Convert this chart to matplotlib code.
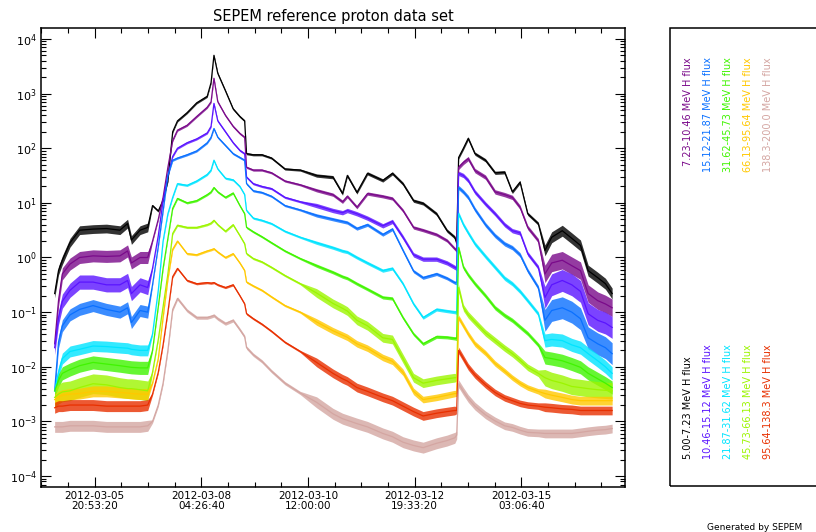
import numpy as np
import matplotlib
matplotlib.use('Agg')
import matplotlib.pyplot as plt
import matplotlib.dates as mdates
from matplotlib.ticker import AutoMinorLocator, LogLocator, NullFormatter
from matplotlib.patches import Rectangle

# Time of each sample, hours after 2012-03-05 00:00 UT
hours = [0, 2, 4, 8, 13, 20, 27, 34, 38, 40,
         44.5, 48.5, 51, 54, 56.5, 59, 61.5, 64, 69, 74,
         79.5, 81.5, 83, 85, 89, 93, 96.5, 99, 100, 103.5,
         108, 113, 120, 128, 136.5, 145, 150, 152.5, 157.5, 163,
         171, 176, 181.5, 187, 192, 199, 204.5, 208.5, 209.5, 210.5,
         213, 215.5, 219, 224.5, 229.5, 234.5, 238.5, 242.5, 246.5, 252,
         255.5, 259, 264.5, 269.5, 274, 278, 283, 287, 290.5]

# log10 of the flux for each energy channel
flux_5_7 = [-0.66, -0.24, -0.05, 0.27, 0.5, 0.52, 0.53, 0.5, 0.62, 0.32,
            0.5, 0.55, 0.95, 0.85, 1.05, 1.4, 2.3, 2.5, 2.65, 2.83,
            2.95, 3.2, 3.7, 3.37, 3.05, 2.72, 2.58, 2.5, 1.9, 1.88,
            1.88, 1.82, 1.62, 1.6, 1.5, 1.47, 1.17, 1.5, 1.19, 1.54,
            1.41, 1.54, 1.35, 1.04, 0.99, 0.8, 0.49, 0.37, 0.26, 1.83,
            2.0, 2.18, 1.9, 1.78, 1.55, 1.56, 1.2, 1.38, 0.8, 0.62,
            0.13, 0.37, 0.49, 0.35, 0.22, -0.24, -0.37, -0.48, -0.66]
flux_7_10 = [-1.58, -0.79, -0.3, -0.12, 0.0, 0.03, 0.02, 0.03, 0.12, -0.1,
             0.0, 0.0, 0.3, 0.7, 1.1, 1.65, 2.14, 2.33, 2.42, 2.58,
             2.75, 2.85, 3.28, 2.85, 2.6, 2.4, 2.27, 2.2, 1.65, 1.6,
             1.6, 1.55, 1.4, 1.33, 1.23, 1.15, 1.02, 1.12, 0.92, 1.17,
             1.12, 1.08, 0.86, 0.55, 0.5, 0.42, 0.31, 0.16, 0.13, 1.65,
             1.74, 1.81, 1.59, 1.47, 1.2, 1.15, 1.1, 0.92, 0.55, 0.31,
             -0.3, -0.1, -0.05, -0.15, -0.24, -0.66, -0.79, -0.85, -0.92]
flux_10_15 = [-1.65, -1.1, -0.8, -0.6, -0.45, -0.45, -0.5, -0.5, -0.42, -0.66,
              -0.5, -0.55, -0.2, 0.4, 1.04, 1.5, 1.85, 2.0, 2.1, 2.17,
              2.28, 2.4, 2.82, 2.5, 2.3, 2.1, 1.96, 1.9, 1.47, 1.35,
              1.3, 1.26, 1.1, 1.02, 0.95, 0.86, 0.82, 0.86, 0.8, 0.72,
              0.58, 0.66, 0.37, 0.05, -0.03, -0.03, -0.1, -0.18, -0.2, 1.54,
              1.5, 1.41, 1.2, 0.98, 0.8, 0.6, 0.49, 0.45, 0.07, -0.18,
              -0.73, -0.5, -0.42, -0.5, -0.62, -1.03, -1.15, -1.2, -1.28]
flux_15_21 = [-2.44, -1.55, -1.25, -1.05, -0.95, -0.88, -0.95, -1.0, -0.92, -1.19,
              -0.97, -1.0, -0.5, 0.2, 0.85, 1.5, 1.78, 1.82, 1.88, 1.95,
              2.1, 2.2, 2.36, 2.2, 2.05, 1.9, 1.83, 1.78, 1.35, 1.22,
              1.19, 1.12, 0.95, 0.87, 0.77, 0.7, 0.66, 0.64, 0.53, 0.6,
              0.42, 0.52, 0.13, -0.25, -0.37, -0.3, -0.38, -0.46, -0.46, 1.28,
              1.2, 1.1, 0.88, 0.6, 0.4, 0.25, 0.18, 0.05, -0.24, -0.55,
              -1.15, -0.97, -0.92, -1.0, -1.12, -1.47, -1.58, -1.65, -1.76]
flux_21_31 = [-2.44, -2.1, -1.85, -1.72, -1.68, -1.62, -1.63, -1.65, -1.66, -1.68,
              -1.7, -1.7, -1.4, -0.6, 0.3, 0.8, 1.1, 1.35, 1.32, 1.4,
              1.52, 1.6, 1.78, 1.62, 1.45, 1.42, 1.3, 1.15, 0.86, 0.72,
              0.68, 0.62, 0.48, 0.37, 0.27, 0.18, 0.12, 0.1, 0.0, -0.1,
              -0.24, -0.2, -0.48, -0.85, -1.1, -0.95, -0.98, -1.0, -1.0, 0.8,
              0.6, 0.45, 0.25, 0.02, -0.18, -0.38, -0.48, -0.62, -0.79, -1.03,
              -1.52, -1.5, -1.52, -1.6, -1.65, -1.76, -1.89, -2.0, -2.12]
flux_31_45 = [-2.44, -2.25, -2.12, -2.05, -1.98, -1.92, -1.95, -1.98, -2.0, -2.01,
              -2.02, -2.02, -1.7, -0.9, -0.2, 0.35, 0.9, 1.08, 1.0, 1.04,
              1.15, 1.2, 1.28, 1.2, 1.1, 1.18, 0.95, 0.8, 0.55, 0.47,
              0.38, 0.27, 0.12, -0.02, -0.15, -0.27, -0.35, -0.38, -0.48, -0.58,
              -0.73, -0.75, -1.1, -1.4, -1.58, -1.45, -1.46, -1.48, -1.48, 0.18,
              -0.18, -0.32, -0.48, -0.7, -0.92, -1.06, -1.15, -1.27, -1.39, -1.6,
              -1.83, -1.85, -1.89, -1.95, -2.01, -2.12, -2.22, -2.3, -2.38]
flux_45_66 = [-2.56, -2.5, -2.46, -2.44, -2.38, -2.31, -2.33, -2.38, -2.4, -2.4,
              -2.42, -2.44, -2.1, -1.5, -0.9, -0.3, 0.44, 0.59, 0.55, 0.55,
              0.6, 0.63, 0.68, 0.6, 0.48, 0.6, 0.4, 0.25, 0.07, -0.02,
              -0.08, -0.18, -0.33, -0.48, -0.65, -0.84, -0.93, -0.98, -1.15, -1.25,
              -1.47, -1.5, -1.85, -2.2, -2.3, -2.25, -2.22, -2.2, -2.2, -0.55,
              -0.92, -1.05, -1.18, -1.38, -1.52, -1.66, -1.76, -1.88, -2.01, -2.12,
              -2.2, -2.25, -2.3, -2.36, -2.38, -2.4, -2.42, -2.43, -2.44]
flux_66_95 = [-2.6, -2.55, -2.52, -2.5, -2.49, -2.45, -2.45, -2.47, -2.48, -2.49,
              -2.5, -2.5, -2.3, -1.85, -1.1, -0.4, 0.15, 0.3, 0.07, 0.05,
              0.12, 0.14, 0.16, 0.1, 0.0, 0.07, -0.1, -0.24, -0.45, -0.52,
              -0.6, -0.72, -0.88, -1.0, -1.18, -1.34, -1.42, -1.46, -1.58, -1.66,
              -1.83, -1.9, -2.1, -2.45, -2.6, -2.56, -2.52, -2.49, -2.49, -1.1,
              -1.25, -1.4, -1.58, -1.75, -1.94, -2.08, -2.2, -2.3, -2.38, -2.45,
              -2.49, -2.52, -2.56, -2.6, -2.62, -2.62, -2.62, -2.62, -2.62]
flux_95_138 = [-2.75, -2.72, -2.72, -2.7, -2.7, -2.7, -2.72, -2.72, -2.72, -2.72,
               -2.72, -2.7, -2.5, -2.1, -1.6, -1.0, -0.35, -0.2, -0.42, -0.48,
               -0.46, -0.47, -0.46, -0.5, -0.55, -0.5, -0.7, -0.85, -1.03, -1.12,
               -1.22, -1.35, -1.55, -1.72, -1.92, -2.12, -2.22, -2.26, -2.38, -2.45,
               -2.56, -2.62, -2.72, -2.82, -2.9, -2.85, -2.82, -2.8, -2.8, -1.7,
               -1.85, -2.0, -2.15, -2.33, -2.47, -2.57, -2.62, -2.67, -2.7, -2.72,
               -2.74, -2.75, -2.77, -2.78, -2.8, -2.8, -2.8, -2.8, -2.8]
flux_138_200 = [-3.1, -3.1, -3.1, -3.08, -3.08, -3.08, -3.1, -3.1, -3.1, -3.1,
                -3.1, -3.08, -3.0, -2.7, -2.3, -1.7, -0.95, -0.75, -0.97, -1.1,
                -1.1, -1.08, -1.06, -1.12, -1.21, -1.15, -1.32, -1.45, -1.65, -1.78,
                -1.9, -2.08, -2.3, -2.48, -2.65, -2.86, -2.95, -2.98, -3.04, -3.1,
                -3.22, -3.28, -3.38, -3.44, -3.48, -3.4, -3.35, -3.3, -3.25, -2.31,
                -2.45, -2.58, -2.72, -2.88, -2.99, -3.08, -3.11, -3.16, -3.2, -3.21,
                -3.22, -3.22, -3.22, -3.22, -3.2, -3.18, -3.16, -3.15, -3.13]

# Scatter of the data (dex) in five stretches: quiet, event 1, decay, event 2, end
stretch_len = [12, 22, 14, 12, 9]
scatter = [[0.08, 0.02, 0.03, 0.03, 0.1],
           [0.11, 0.02, 0.03, 0.04, 0.16],
           [0.13, 0.02, 0.04, 0.04, 0.2],
           [0.11, 0.02, 0.03, 0.04, 0.2],
           [0.1, 0.02, 0.03, 0.04, 0.12],
           [0.12, 0.02, 0.03, 0.04, 0.12],
           [0.18, 0.02, 0.08, 0.06, 0.15],
           [0.1, 0.02, 0.06, 0.05, 0.08],
           [0.1, 0.02, 0.08, 0.06, 0.08],
           [0.1, 0.03, 0.1, 0.07, 0.08]]

channels = ['5.00-7.23', '7.23-10.46', '10.46-15.12', '15.12-21.87', '21.87-31.62',
            '31.62-45.73', '45.73-66.13', '66.13-95.64', '95.64-138.3', '138.3-200.0']
series = [flux_5_7, flux_7_10, flux_10_15, flux_15_21, flux_21_31,
          flux_31_45, flux_45_66, flux_66_95, flux_95_138, flux_138_200]
colors = ['#000000', '#7a0a8a', '#5a14ff', '#0a70ff', '#00e4ff',
          '#40f400', '#9cf500', '#ffc800', '#e83000', '#d4a6a2']

tick_times = ['2012-03-05T20:53:20', '2012-03-08T04:26:40', '2012-03-10T12:00:00',
              '2012-03-12T19:33:20', '2012-03-15T03:06:40']

W, H = 816, 532
fig = plt.figure(figsize=(W / 100, H / 100), dpi=100)
ax = fig.add_axes([41 / W, 1 - 487 / H, (625 - 41) / W, (487 - 28) / H])

t0 = np.datetime64('2012-03-05T00:00:00')
times = t0 + (np.array(hours) * 3600).astype('timedelta64[s]')

# Draw each channel: scatter band + line
for vals, sc, col in zip(series, scatter, colors):
    v = np.array(vals)
    s = np.repeat(sc, stretch_len)
    ax.fill_between(times, 10 ** (v - s), 10 ** (v + s), color=col, alpha=0.8, lw=0)
    ax.plot(times, 10 ** v, color=col, lw=0.9)

# Axes settings
ax.set_yscale('log')
ax.set_ylim(10 ** -4.2, 10 ** 4.2)
ax.set_xlim(np.datetime64('2012-03-04T16:53'), np.datetime64('2012-03-17T09:12'))
ax.set_xticks([np.datetime64(t) for t in tick_times])
ax.xaxis.set_major_formatter(mdates.DateFormatter('%Y-%m-%d\n%H:%M:%S'))
ax.xaxis.set_minor_locator(AutoMinorLocator(4))
ax.xaxis.set_minor_formatter(NullFormatter())
ax.yaxis.set_major_locator(LogLocator(base=10, numticks=20))
ax.yaxis.set_minor_locator(LogLocator(base=10, subs=np.arange(2, 10), numticks=200))
ax.yaxis.set_minor_formatter(NullFormatter())
ax.xaxis.get_offset_text().set_visible(False)
ax.yaxis.get_offset_text().set_visible(False)
ax.tick_params(which='both', direction='in', top=True, right=True, width=0.8)
ax.tick_params(which='major', length=7, pad=3)
ax.tick_params(which='minor', length=3.5)
ax.tick_params(axis='x', labelsize=7.5)
ax.tick_params(axis='y', labelsize=8)
for lab in ax.get_xticklabels():
    lab.set_linespacing(0.95)
for sp in ax.spines.values():
    sp.set_linewidth(1.1)

fig.text(333 / W, 1 - 17 / H, 'SEPEM reference proton data set', ha='center', va='center',
         fontsize=10.5)

# Legend box with rotated labels
fig.add_artist(Rectangle((670 / W, 1 - 486 / H), 0.2, 458 / H, transform=fig.transFigure,
                         fill=False, lw=1.1, edgecolor='k'))
col_x = [688, 708, 728, 748, 768]
for i, (ch, col) in enumerate(zip(channels, colors)):
    x = col_x[i // 2] / W
    if i % 2 == 1:
        fig.text(x, 1 - 57 / H, ch + ' MeV H flux', rotation=90, ha='center', va='top',
                 color=col, fontsize=7)
    else:
        fig.text(x, 1 - 459 / H, ch + ' MeV H flux', rotation=90, ha='center', va='bottom',
                 color=col, fontsize=7)

fig.text(755 / W, 1 - 527 / H, 'Generated by SEPEM', ha='center', va='center', fontsize=6.5)

fig.savefig('out.png', dpi=100)
